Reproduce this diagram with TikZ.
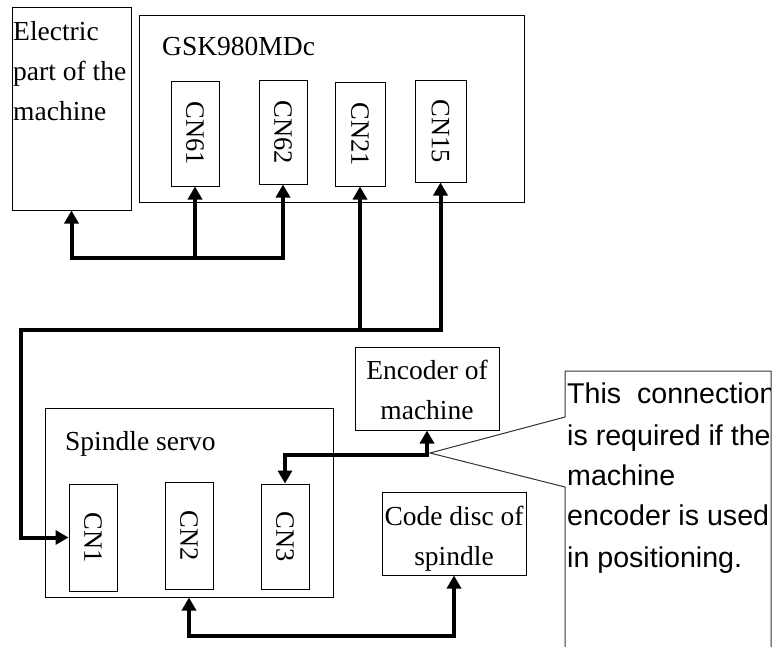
\documentclass[tikz,border=0pt]{standalone}
\usepackage{fontspec}
\setmainfont{Liberation Serif}
\setsansfont{Liberation Sans}
\usetikzlibrary{arrows.meta,fit}
\begin{document}
\begin{tikzpicture}[x=1pt,y=-1pt,
  box/.style={draw,line width=1pt,inner sep=0pt},
  tip/.tip={Triangle[width=14pt,length=13pt]},
  wire/.style={line width=4pt,line join=miter},
  lbl/.style={font=\fontsize{27.5}{39}\selectfont,inner sep=0pt},
  cnlbl/.style={font=\fontsize{26.5}{30}\selectfont,inner sep=0pt,rotate=-90},
  note/.style={font=\sffamily\fontsize{28.6}{41}\selectfont,inner sep=0pt,anchor=base west},
  callout/.style={draw=black!80,line width=1pt}]
\useasboundingbox (0,0) rectangle (774,646);
\fill[white] (0,0) rectangle (774,646);

% boxes
\node[box,fit={(12,7) (131,210)}] (elec) {};
\node[box,fit={(139,15) (524,202)}] (gsk) {};
\node[box,fit={(171,81) (219,186)}] (cn61) {};
\node[box,fit={(259,80) (307,184)}] (cn62) {};
\node[box,fit={(335,82) (385,186)}] (cn21) {};
\node[box,fit={(415,80) (466,182)}] (cn15) {};
\node[box,fit={(45,408) (333,597)}] (servo) {};
\node[box,fit={(69,484) (117,591)}] (cn1) {};
\node[box,fit={(165,482) (213,589)}] (cn2) {};
\node[box,fit={(261,484) (309,589)}] (cn3) {};
\node[box,fit={(355,347) (499,430)}] (enc) {};
\node[box,fit={(382,492) (526,575)}] (disc) {};

% labels
\node[lbl,anchor=base west] (t1) at (13,40) {Electric};
\node[lbl,anchor=base west] (t2) at (13,80) {part of the};
\node[lbl,anchor=base west] (t3) at (13,120) {machine};
\node[lbl,anchor=base west] (tg) at (162,55) {GSK980MDc};
\node[cnlbl] (l61) at (cn61.center) {CN61};
\node[cnlbl] (l62) at (cn62.center) {CN62};
\node[cnlbl] (l21) at (cn21.center) {CN21};
\node[cnlbl] (l15) at (cn15.center) {CN15};
\node[lbl,anchor=base west] (ts) at (65,450) {Spindle servo};
\node[cnlbl] (l1) at (cn1.center) {CN1};
\node[cnlbl] (l2) at (cn2.center) {CN2};
\node[cnlbl] (l3) at (cn3.center) {CN3};
\node[lbl,anchor=base] (te1) at (427,379) {Encoder of};
\node[lbl,anchor=base] (te2) at (427,419) {machine};
\node[lbl,anchor=base] (td1) at (454,525) {Code disc of};
\node[lbl,anchor=base] (td2) at (454,565) {spindle};

% connectors
\coordinate (b1) at (0,258);
\coordinate (b2) at (0,330);
\coordinate (b2x) at (21,0);
\coordinate (b3) at (0,455);
\coordinate (b4) at (0,636);
\draw[wire,{tip}-{tip}] (elec.south) -- (elec.south |- b1) -- (cn62.south |- b1) -- (cn62.south);
\draw[wire,-{tip}] (cn61.south |- b1) -- (cn61.south);
\draw[wire,{tip}-{tip}] (cn15.south) -- (cn15.south |- b2) -- (b2x |- b2) -- (b2x |- cn1.west) -- (cn1.west);
\draw[wire,-{tip}] (cn21.south |- b2) -- (cn21.south);
\draw[wire,{tip}-{tip}] (enc.south) -- (enc.south |- b3) -- (cn3.north |- b3) -- (cn3.north);
\draw[wire,{tip}-{tip}] (cn2.south |- servo.south) -- (cn2.south |- b4) -- (disc.south |- b4) -- (disc.south);

% callout
\coordinate (ctip) at (430,453);
\draw[callout] (565,650) -- (565,487) -- (ctip) -- (565,417) -- (565,371) -- (771,371) -- (771,650);
\begin{scope}
\clip (566,372) rectangle (770,646);
\node[note] (n1) at (567,403) {This\ \ connection};
\node[note] (n2) at (567,445) {is required if the};
\node[note] (n3) at (567,485) {machine};
\node[note] (n4) at (567,525) {encoder is used};
\node[note] (n5) at (567,567) {in positioning.};
\end{scope}
\end{tikzpicture}
\end{document}
